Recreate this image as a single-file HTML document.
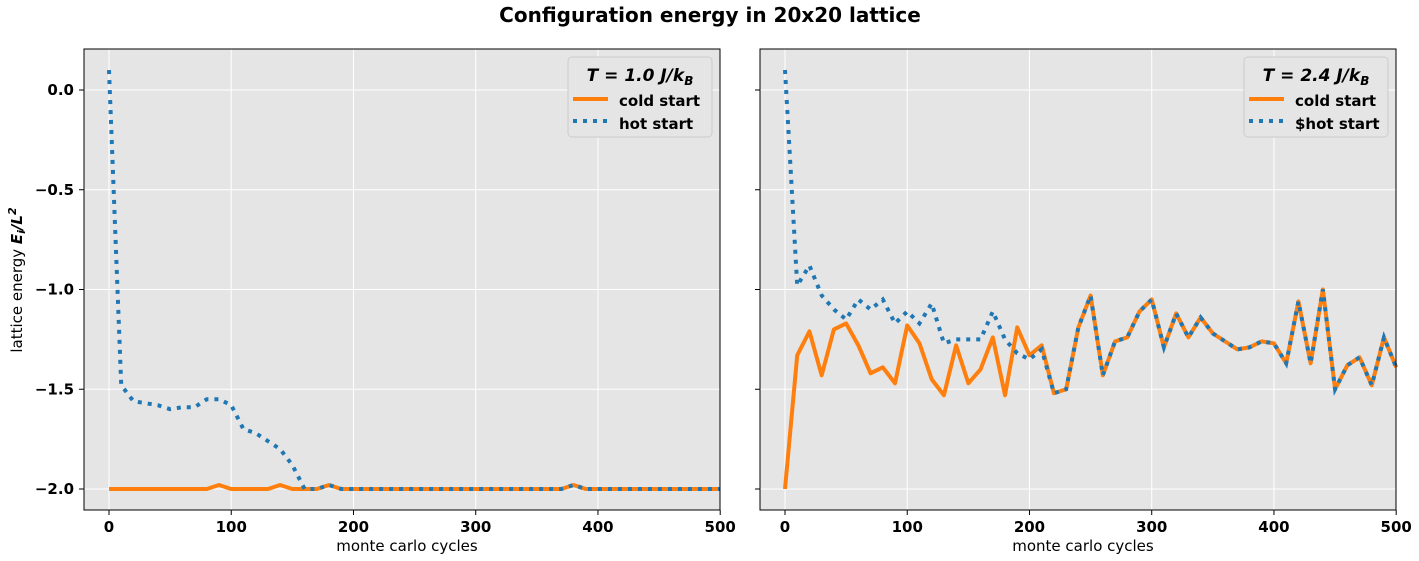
<!DOCTYPE html>
<html><head><meta charset="utf-8"><style>
body{margin:0;background:#fff;}
svg{display:block;font-family:"DejaVu Sans","Liberation Sans",sans-serif;}
</style></head><body>
<svg id="fig" width="1419" height="561">
<text x="710" y="22" text-anchor="middle" font-size="20" font-weight="bold">Configuration energy in 20x20 lattice</text>
</svg>
<script>
const xTicks=[0,100,200,300,400,500];
const yTicks=[0.0,-0.5,-1.0,-1.5,-2.0];
const yTickLabels=["0.0","−0.5","−1.0","−1.5","−2.0"];
const cycles=[0,10,20,30,40,50,60,70,80,90,100,110,120,130,140,150,160,170,180,190,200,210,220,230,240,250,260,270,280,290,300,310,320,330,340,350,360,370,380,390,400,410,420,430,440,450,460,470,480,490,500];
const leftCold=[-2,-2,-2,-2,-2,-2,-2,-2,-2,-1.98,-2,-2,-2,-2,-1.98,-2,-2,-2,-1.98,-2,-2,-2,-2,-2,-2,-2,-2,-2,-2,-2,-2,-2,-2,-2,-2,-2,-2,-2,-1.98,-2,-2,-2,-2,-2,-2,-2,-2,-2,-2,-2,-2];
const leftHot=[0.1,-1.48,-1.56,-1.57,-1.58,-1.6,-1.59,-1.59,-1.55,-1.55,-1.58,-1.7,-1.72,-1.76,-1.8,-1.88,-2,-2,-1.98,-2,-2,-2,-2,-2,-2,-2,-2,-2,-2,-2,-2,-2,-2,-2,-2,-2,-2,-2,-1.98,-2,-2,-2,-2,-2,-2,-2,-2,-2,-2,-2,-2];
const rightCold=[-2,-1.33,-1.21,-1.43,-1.2,-1.17,-1.28,-1.42,-1.39,-1.47,-1.18,-1.27,-1.45,-1.53,-1.28,-1.47,-1.4,-1.24,-1.53,-1.19,-1.33,-1.28,-1.52,-1.5,-1.19,-1.03,-1.43,-1.26,-1.24,-1.11,-1.05,-1.29,-1.12,-1.24,-1.14,-1.22,-1.26,-1.3,-1.29,-1.26,-1.27,-1.37,-1.06,-1.37,-1.0,-1.5,-1.38,-1.34,-1.48,-1.24,-1.39];
const rightHot=[0.1,-0.98,-0.88,-1.03,-1.1,-1.15,-1.05,-1.1,-1.05,-1.17,-1.11,-1.17,-1.07,-1.27,-1.25,-1.25,-1.25,-1.11,-1.25,-1.32,-1.35,-1.3,-1.52,-1.5,-1.19,-1.03,-1.43,-1.26,-1.24,-1.11,-1.05,-1.29,-1.12,-1.24,-1.14,-1.22,-1.26,-1.3,-1.29,-1.26,-1.27,-1.37,-1.06,-1.37,-1.0,-1.5,-1.38,-1.34,-1.48,-1.24,-1.39];
const NS="http://www.w3.org/2000/svg";
const svg=document.getElementById('fig');
function mk(tag,attrs,parent){const e=document.createElementNS(NS,tag);for(const k in attrs)e.setAttribute(k,attrs[k]);(parent||svg).appendChild(e);return e;}
function panel(id,x0,x1,cold,hot,title,hotLabel,showY){
  const y0=49,y1=510;
  const X=v=>x0+25+v*1.2224;
  const Y=v=>90-v*199.5;
  const g=mk('g',{});
  
  
  const bg=mk('rect',{x:x0,y:y0,width:x1-x0,height:y1-y0,fill:'#e5e5e5'},g);
  
  
  xTicks.forEach(t=>{
    mk('line',{x1:X(t),x2:X(t),y1:y0,y2:y1,stroke:'#fff','stroke-width':1},g);
    mk('line',{x1:X(t),x2:X(t),y1:y1,y2:y1+5,stroke:'#000','stroke-width':1},g);
    const tx=mk('text',{x:X(t),y:y1+22,'text-anchor':'middle','font-size':15,'font-weight':'bold'},g);
    tx.textContent=t;
    
    
  });
  yTicks.forEach((t,i)=>{
    mk('line',{x1:x0,x2:x1,y1:Y(t),y2:Y(t),stroke:'#fff','stroke-width':1},g);
    mk('line',{x1:x0-5,x2:x0,y1:Y(t),y2:Y(t),stroke:'#000','stroke-width':1},g);
    if(showY){const tx=mk('text',{x:x0-10,y:Y(t)+5,'text-anchor':'end','font-size':15,'font-weight':'bold'},g);
    tx.textContent=yTickLabels[i];
    
    }
  });
  const pc=mk('polyline',{points:cycles.map((c,i)=>X(c)+','+Y(cold[i])).join(' '),fill:'none',stroke:'#ff7f0e','stroke-width':4,'stroke-linejoin':'round'},g);
  
  
  const ph=mk('polyline',{points:cycles.map((c,i)=>X(c)+','+Y(hot[i])).join(' '),fill:'none',stroke:'#1f77b4','stroke-width':4,'stroke-dasharray':'4 6'},g);
  
  
  mk('rect',{x:x0,y:y0,width:x1-x0,height:y1-y0,fill:'none',stroke:'#000','stroke-width':1},g);
  const xl=mk('text',{x:(x0+x1)/2+5,y:551,'text-anchor':'middle','font-size':15},g);
  xl.textContent='monte carlo cycles';
  
  
  const lg=mk('g',{},g);
  
  
  const lx=x1-152;
  mk('rect',{x:lx,y:57,width:144,height:80,rx:4,fill:'#e5e5e5',stroke:'#ccc'},lg);
  const lt=mk('text',{x:lx+72,y:81,'text-anchor':'middle','font-size':17,'font-weight':'bold','font-style':'italic'},lg);
  lt.innerHTML=title+'<tspan font-size="12" dy="4">B</tspan>';
  mk('line',{x1:lx+5,x2:lx+40,y1:99,y2:99,stroke:'#ff7f0e','stroke-width':4},lg);
  const l1=mk('text',{x:lx+51,y:106,'font-size':15,'font-weight':'bold'},lg);l1.textContent='cold start';
  mk('line',{x1:lx+5,x2:lx+40,y1:121,y2:121,stroke:'#1f77b4','stroke-width':4,'stroke-dasharray':'4 6'},lg);
  const l2=mk('text',{x:lx+51,y:129,'font-size':15,'font-weight':'bold'},lg);l2.textContent=hotLabel;
}
panel('left',84,720,leftCold,leftHot,'T = 1.0 J/k','hot start',true);
panel('right',760,1396,rightCold,rightHot,'T = 2.4 J/k','$hot start',false);
const yl=mk('text',{x:0,y:0,'text-anchor':'middle','font-size':15,transform:'translate(22,280) rotate(-90)'});
yl.innerHTML='lattice energy <tspan font-weight="bold" font-style="italic">E<tspan font-size="11" dy="3">i</tspan><tspan dy="-3">/L</tspan><tspan font-size="11" dy="-6">2</tspan></tspan>';


</script>
</body></html>
